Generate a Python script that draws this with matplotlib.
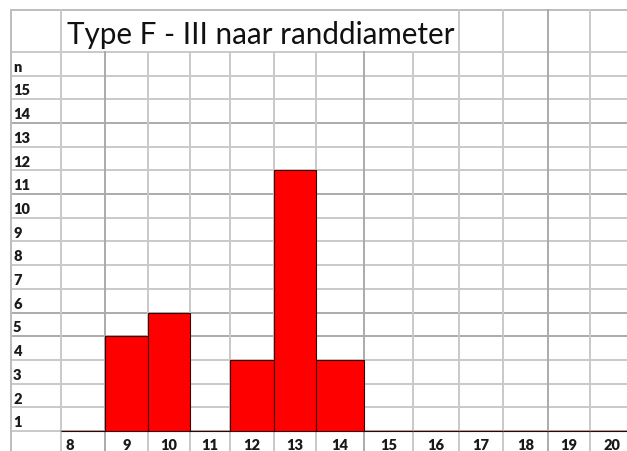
import matplotlib
matplotlib.use("Agg")
import matplotlib.pyplot as plt

# ---- data ----
diameters = [8, 9, 10, 11, 12, 13, 14, 15, 16, 17, 18, 19, 20]
counts = [0, 4, 5, 0, 3, 11, 3, 0, 0, 0, 0, 0, 0]
row_labels = [str(i) for i in range(1, 16)]
title = "Type F - III naar randdiameter"

# ---- layout (spreadsheet geometry, pixels horizontally, rows vertically) ----
W, H = 627, 452
col_edges = [61, 105, 148, 190, 230, 274, 316, 364, 413, 459, 503, 548, 590, 634]
left_border = 11
row_h = 23.7
base_px = 432          # pixel row (from top) of the y=0 line
top_border_px = 11
n_rows = 16            # 15 value rows + "n" row
title_merge_end = 9    # title cell spans columns 0..8

fig = plt.figure(figsize=(W / 100, H / 100), dpi=100)
ax = fig.add_axes([0, 0, 1, 1])
ax.set_xlim(0, W)
ax.set_ylim(-(H - base_px) / row_h, base_px / row_h)
ax.axis("off")

y_top = (base_px - top_border_px) / row_h
y_bot = -(H - base_px) / row_h - 0.5
x_right = col_edges[-1] + 5

light = "#c9c9c9"
dark = "#ababab"
dark_rows = {4, 5, 10, 13}
dark_cols = {105, 364, 548}

# horizontal grid lines
for r in range(0, n_rows + 1):
    c = dark if r in dark_rows else light
    ax.plot([left_border, x_right], [r, r], color=c, lw=1.4, zorder=1,
            solid_capstyle="butt")
ax.plot([left_border, x_right], [y_top, y_top], color="#bdbdbd", lw=1.4, zorder=1)

# vertical grid lines
ax.plot([left_border, left_border], [y_bot, y_top], color="#bdbdbd", lw=1.4, zorder=1)
for i, xe in enumerate(col_edges):
    c = dark if xe in dark_cols else light
    top = y_top if (i == 0 or i >= title_merge_end) else n_rows
    ax.plot([xe, xe], [y_bot, top], color=c, lw=1.4, zorder=1)

# baseline under bars
ax.plot([col_edges[0], x_right], [0, 0], color="#ababab", lw=1.4, zorder=2)

# bars
lefts = col_edges[:-1]
widths = [col_edges[i + 1] - col_edges[i] for i in range(len(diameters))]
ax.bar(lefts, counts, width=widths, align="edge", color="#ff0000",
       edgecolor="#3a0000", linewidth=0.8, zorder=3)

# row labels
lab_font = dict(family="Lato", fontweight="heavy", fontsize=10.5, color="#1a1a1a")
for i, lab in enumerate(row_labels):
    ax.text(13, i + 0.2, lab, ha="left", va="baseline", **lab_font)
ax.text(13, n_rows - 1 + 0.2, "n", ha="left", va="baseline", **lab_font)

# column labels
for i, d in enumerate(diameters):
    if i == 0:
        ax.text(col_edges[0] + 4, -0.78, str(d), ha="left", va="baseline", **lab_font)
    else:
        cx = (col_edges[i] + col_edges[i + 1]) / 2
        ax.text(cx, -0.78, str(d), ha="center", va="baseline", **lab_font)

# title
ax.text(67, (base_px - 44) / row_h, title, ha="left", va="baseline",
        family="Lato", fontsize=21.3, color="#111111")

fig.savefig("out.png", dpi=100)
